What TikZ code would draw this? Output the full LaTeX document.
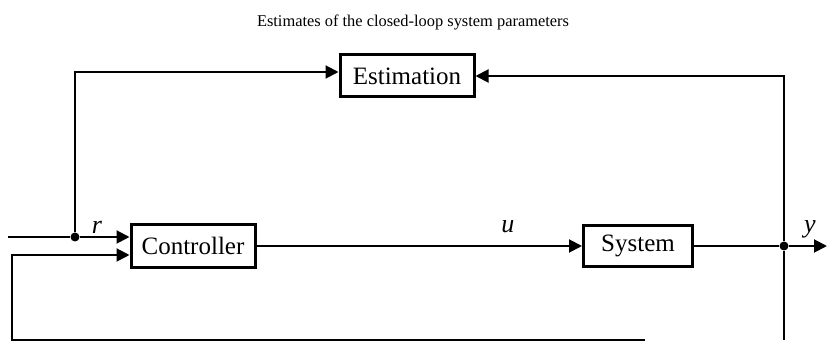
\documentclass[tikz,border=0pt]{standalone}
\usepackage{fontspec}
\setmainfont{Liberation Serif}
\usetikzlibrary{arrows.meta}
\tikzset{
  blockbox/.style={draw,line width=1.5pt,inner sep=0pt,font=\fontsize{12.5}{14}\selectfont},
  sig/.style={line width=1pt},
  sigarrow/.style={sig,-{Triangle[length=6.5pt,width=6.5pt]}},
  junction/.style={circle,fill,inner sep=0pt,minimum size=4.5pt}
}
\begin{document}
\begin{tikzpicture}[x=0.5pt,y=0.5pt]
   \useasboundingbox (0,0) rectangle (827,342);
   % blocks
   \node[blockbox,minimum width=67pt,minimum height=21pt] (est) at (407,266) {Estimation};
   \node[blockbox,minimum width=62pt,minimum height=21.5pt] (ctrl) at (193,96) {Controller};
   \node[blockbox,minimum width=54.5pt,minimum height=20.5pt] (sys) at (638,96) {System};
   \node[font=\fontsize{8.2}{10}\selectfont] (title) at (413,319) {Estimates of the closed-loop system parameters};
   % junctions and free ends
   \node[junction] (jr) at (75,105) {};
   \node[junction] (jy) at (784,96) {};
   \coordinate (rin) at (8,105);
   \coordinate (yout) at (827,96);
   \coordinate (fbend) at (645,2);
   \coordinate (fbcorner) at (12,2);
   \coordinate (ybottom) at (784,2);
   % signals
   \draw[sig] (rin) -- (jr);
   \draw[sigarrow] (jr) -- (ctrl.west |- jr);
   \draw[sigarrow] (jr) |- ([yshift=2pt]est.west);
   \draw[sigarrow] (fbend) -- (fbcorner) |- ([yshift=-4.5pt]ctrl.west);
   \draw[sigarrow] (ctrl) -- (sys);
   \draw[sig] (sys) -- (jy);
   \draw[sigarrow] (jy) -- (yout);
   \draw[sig] (ybottom) -- (jy);
   \draw[sigarrow] (jy) |- (est);
   % labels
   \node[font=\fontsize{13}{14}\selectfont\itshape] (rlab) at (97,115) {r};
   \node[font=\fontsize{13}{14}\selectfont\itshape] (ulab) at (508,115) {u};
   \node[font=\fontsize{13}{14}\selectfont\itshape] (ylab) at (810,113) {y};
\end{tikzpicture}
\end{document}
